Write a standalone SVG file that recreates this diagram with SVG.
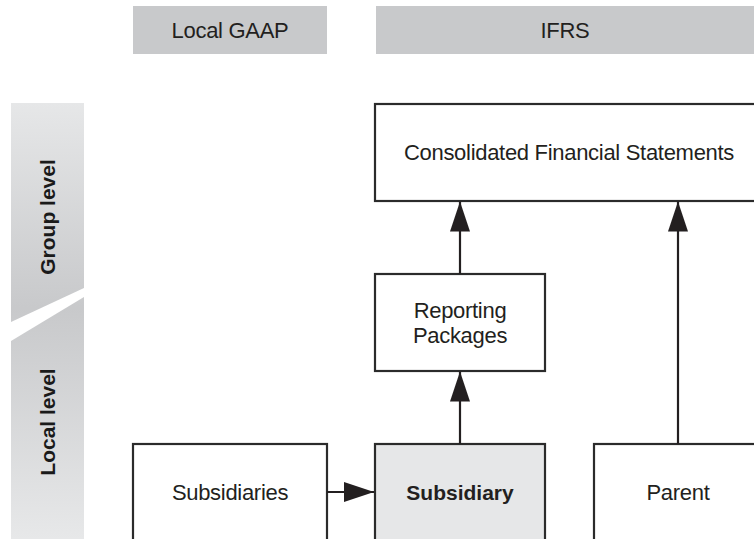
<svg xmlns="http://www.w3.org/2000/svg" width="754" height="539" viewBox="0 0 754 539">
  <defs>
    <linearGradient id="sideGrad" gradientUnits="userSpaceOnUse" x1="0" y1="103" x2="0" y2="539">
      <stop offset="0" stop-color="#e6e7e8"/>
      <stop offset="0.47" stop-color="#c8c9cb"/>
      <stop offset="1" stop-color="#e7e8e9"/>
    </linearGradient>
    <marker id="arrow" viewBox="0 0 30 20" refX="30" refY="10" markerWidth="30" markerHeight="20" markerUnits="userSpaceOnUse" orient="auto">
      <path d="M0,0 L30,10 L0,20 Z" fill="#231f20"/>
    </marker>
    <style>
      .hdr { fill: #c8c9cb; }
      .box { fill: #ffffff; stroke: #2b2b2b; stroke-width: 2.2; }
      .box-hl { fill: #e6e7e8; stroke: #2b2b2b; stroke-width: 2.2; }
      .lbl { font-family: "Liberation Sans", Arial, sans-serif; font-size: 22px; letter-spacing: -0.3px; fill: #231f20; text-anchor: middle; dominant-baseline: central; }
      .bold { font-weight: bold; letter-spacing: 0; font-size: 21px; }
      .side { font-family: "Liberation Sans", Arial, sans-serif; font-size: 21px; font-weight: bold; fill: #1a1a1a; text-anchor: middle; dominant-baseline: central; }
      .conn { fill: none; stroke: #231f20; stroke-width: 2.2; marker-end: url(#arrow); }
    </style>
  </defs>

  <!-- column headers -->
  <g id="hdr-local-gaap">
    <rect class="hdr" x="133" y="6" width="194" height="48"/>
    <text class="lbl" x="230" y="30">Local GAAP</text>
  </g>
  <g id="hdr-ifrs">
    <rect class="hdr" x="376" y="6" width="378" height="48"/>
    <text class="lbl" x="565" y="30">IFRS</text>
  </g>

  <!-- level band on the left -->
  <g id="level-group">
    <polygon points="11,103 84,103 84,288 11,322" fill="url(#sideGrad)"/>
    <text class="side" transform="translate(47,217) rotate(-90)">Group level</text>
  </g>
  <g id="level-local">
    <polygon points="11,341 84,297 84,539 11,539" fill="url(#sideGrad)"/>
    <text class="side" transform="translate(47,422) rotate(-90)">Local level</text>
  </g>

  <!-- nodes -->
  <g id="consolidated">
    <rect class="box" x="375" y="104" width="385" height="97"/>
    <text class="lbl" x="569" y="152">Consolidated Financial Statements</text>
  </g>
  <g id="reporting-packages">
    <rect class="box" x="375" y="274" width="170" height="97"/>
    <text class="lbl" x="460" y="310">Reporting</text>
    <text class="lbl" x="460" y="335">Packages</text>
  </g>
  <g id="subsidiaries">
    <rect class="box" x="133" y="444" width="194" height="110"/>
    <text class="lbl" x="230" y="492">Subsidiaries</text>
  </g>
  <g id="subsidiary">
    <rect class="box-hl" x="375" y="444" width="170" height="110"/>
    <text class="lbl bold" x="460" y="492">Subsidiary</text>
  </g>
  <g id="parent">
    <rect class="box" x="594" y="444" width="170" height="110"/>
    <text class="lbl" x="678" y="492">Parent</text>
  </g>

  <!-- connectors -->
  <g id="connectors">
    <path class="conn" d="M460,274 L460,201.5"/>
    <path class="conn" d="M460,444 L460,371.5"/>
    <path class="conn" d="M678,444 L678,201.5"/>
    <path class="conn" d="M327,492 L374,492"/>
  </g>
</svg>
